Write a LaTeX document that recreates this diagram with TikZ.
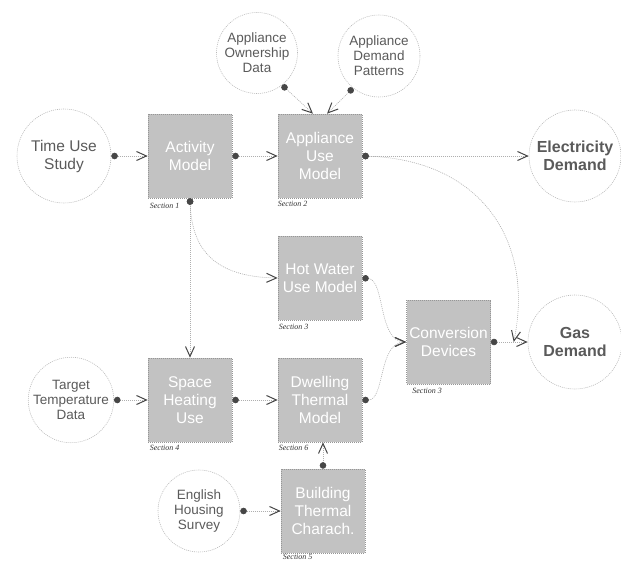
\documentclass[tikz,border=0pt]{standalone}
\usepackage{fontspec}
\setmainfont{Liberation Sans}
\newfontfamily\secfont{Liberation Serif}
\usepackage{tikz}
\usetikzlibrary{arrows.meta}
\definecolor{boxgray}{RGB}{194,194,194}
\definecolor{rimgray}{RGB}{150,150,150}
\definecolor{ringgray}{RGB}{185,185,185}
\definecolor{txtgray}{RGB}{90,90,90}
\definecolor{tipgray}{RGB}{70,70,70}
\definecolor{wiregray}{RGB}{175,175,175}

\begin{document}
\begin{tikzpicture}[
x = 1pt, y = -1pt,
modbox/.style={rectangle, align = center, text = white,
draw = rimgray, fill = boxgray, dash pattern = on 1pt off 1pt, line width = 0.6pt,
minimum width = 84pt, minimum height = 84pt, inner sep = 0pt,
font = \fontsize{15.5}{18}\selectfont},
datcirc/.style={circle, align = center, text = txtgray,
draw = ringgray, dash pattern = on 1pt off 1pt, line width = 0.6pt, inner sep = 0pt,
font = \fontsize{13.5}{15}\selectfont},
bigcirc/.style={datcirc, font = \fontsize{15.5}{18}\selectfont},
outcirc/.style={datcirc, font = \bfseries\fontsize{16}{18}\selectfont},
secnote/.style={anchor = west, inner sep = 0pt, text = black!80,
font = \secfont\itshape\fontsize{8}{9}\selectfont},
conarr/.style={draw = wiregray, line width = 0.6pt, dash pattern = on 1pt off 1pt,
arrows = {Circle[length = 6.5pt, color = tipgray]-Straight Barb[length = 10pt, width = 9pt, line width = 1pt, color = tipgray]}},
node distance = 122pt]

\useasboundingbox (0,0) rectangle (621,561);

\node[bigcirc, minimum size = 94pt] (TUS) at (64,156) {Time Use\\Study};
\node[modbox] (AM) at (190,156) {Activity\\Model};
\node[modbox] (AUM) at (320,156) {Appliance\\Use\\Model};
\node[datcirc, minimum size = 81pt] (AOD) at (257,53) {Appliance\\Ownership\\Data};
\node[datcirc, minimum size = 82pt] (ADP) at (379,56) {Appliance\\Demand\\Patterns};
\node[outcirc, minimum size = 92pt] (ED) at (575,156) {Electricity\\Demand};
\node[modbox, below of = AUM] (HW) {Hot Water\\Use Model};
\node[modbox, below of = HW] (DT) {Dwelling\\Thermal\\Model};
\node[modbox] (SH) at (190,400) {Space\\Heating\\Use};
\node[datcirc, minimum size = 82pt] (TTD) at (71,400) {Target\\Temperature\\Data};
\node[modbox] (BT) at (323,511) {Building\\Thermal\\Charach.};
\node[datcirc, minimum size = 82pt] (EHS) at (199,511) {English\\Housing\\Survey};
\node[modbox] (CD) at (448.5,342) {Conversion\\Devices};
\node[outcirc, minimum size = 94pt] (GD) at (575,342) {Gas\\Demand};
\coordinate (GDin) at ([xshift=-14pt]GD.west);

% section numbers
\node[secnote] (S1) at ([shift={(2,8)}]AM.south west) {Section 1};
\node[secnote] (S2) at ([shift={(0,6)}]AUM.south west) {Section 2};
\node[secnote] (S3) at ([shift={(1,7)}]HW.south west) {Section 3};
\node[secnote] (S3b) at ([shift={(6,7)}]CD.south west) {Section 3};
\node[secnote] (S4) at ([shift={(2,6)}]SH.south west) {Section 4};
\node[secnote] (S6) at ([shift={(1,6)}]DT.south west) {Section 6};
\node[secnote] (S5) at ([shift={(2,3.5)}]BT.south west) {Section 5};

\draw[conarr] (TUS.east) -- (AM.west);
\draw[conarr] (AM.east) -- (AUM.west);
\draw[conarr] (AOD.-52) -- ([xshift=-7pt]AUM.north);
\draw[conarr] (ADP.-129) -- ([xshift=7pt]AUM.north);
\draw[conarr] (AUM.east) -- (ED.west);
\draw[conarr] (AUM.east) .. controls (480,160) and (535,240) .. (GDin);
\draw[conarr] (AM.south) .. controls (192,250) and (215,277) .. (HW.west);
\draw[conarr] (AM.south) -- (SH.north);
\draw[conarr] (TTD.east) -- (SH.west);
\draw[conarr] (SH.east) -- (DT.west);
\draw[conarr] (BT.north) -- (BT.north |- DT.south);
\draw[conarr] (EHS.east) -- (BT.west);
\draw[conarr] (HW.east) .. controls (385,280) and (378,342) .. (CD.west);
\draw[conarr] (DT.east) .. controls (385,400) and (378,342) .. (CD.west);
\draw[conarr] (CD.east) -- (GD.west);

\end{tikzpicture}
\end{document}
